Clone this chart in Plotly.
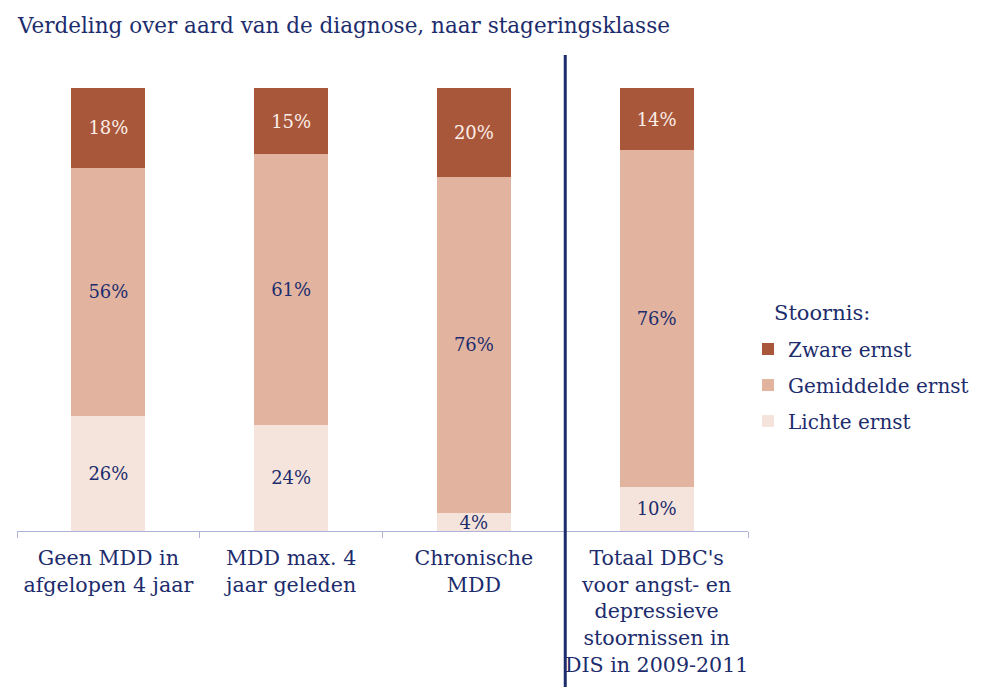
import plotly.graph_objects as go

# Data
categories = [
    "Geen MDD in<br>afgelopen 4 jaar",
    "MDD max. 4<br>jaar geleden",
    "Chronische<br>MDD",
    "Totaal DBC's<br>voor angst- en<br>depressieve<br>stoornissen in<br>DIS in 2009-2011",
]
lichte = [26, 24, 4, 10]
gemiddelde = [56, 61, 76, 76]
zware = [18, 15, 20, 14]

navy = "#1c2c6c"
serif = "DejaVu Serif"

fig = go.Figure()

series = [
    ("Lichte ernst", lichte, "#f5e4dc", navy, 3),
    ("Gemiddelde ernst", gemiddelde, "#e2b4a0", navy, 2),
    ("Zware ernst", zware, "#a9573a", "#fbeee8", 1),
]
for name, vals, col, txtcol, rank in series:
    fig.add_trace(go.Bar(
        x=categories, y=vals, name=name, legendgroup=name, legendrank=rank,
        marker=dict(color=col, line=dict(width=0)),
        text=[f"{v}%" for v in vals],
        textposition="inside", insidetextanchor="middle",
        constraintext="none",
        textfont=dict(color=txtcol, size=18, family=serif),
        width=0.405,
    ))

# dark separator line before the total column
fig.add_shape(type="line", xref="x", yref="paper",
              x0=2.5, x1=2.5, y0=-0.5, y1=1.0745,
              line=dict(color=navy, width=3))

# legend heading
fig.add_annotation(text="Stoornis:", xref="paper", yref="paper",
                   x=1.0328, y=0.492, xanchor="left", yanchor="middle",
                   showarrow=False, font=dict(size=21, color=navy, family=serif))

# page has an 8px body margin, so positions are shifted up/left by 8px
fig.update_layout(
    barmode="stack",
    width=986, height=687,
    margin=dict(l=9, r=246, t=80, b=164, autoexpand=False),
    paper_bgcolor="white", plot_bgcolor="white",
    font=dict(family=serif, color=navy, size=20),
    title=dict(text="Verdeling over aard van de diagnose, naar stageringsklasse",
               x=0.0101, xanchor="left", y=0.975, yanchor="middle",
               font=dict(size=21.5, color=navy, family=serif)),
    legend=dict(
        xref="container", yref="container",
        x=0.7505, xanchor="left", y=0.532, yanchor="top",
        font=dict(size=20, color=navy, family=serif),
        traceorder="grouped", tracegroupgap=7,
        itemclick=False,
    ),
    showlegend=True,
)
fig.update_xaxes(
    range=[-0.5, 3.5], showline=True, linecolor="#aeb2d8", linewidth=1,
    ticks="outside", tickson="boundaries", ticklen=6, tickcolor="#aeb2d8",
    tickfont=dict(size=20.6, color=navy, family=serif), tickangle=0,
    ticklabelstandoff=8,
    showgrid=False, automargin=False,
)
fig.update_yaxes(range=[0, 100], visible=False, showgrid=False)

fig.write_html("out.html")
